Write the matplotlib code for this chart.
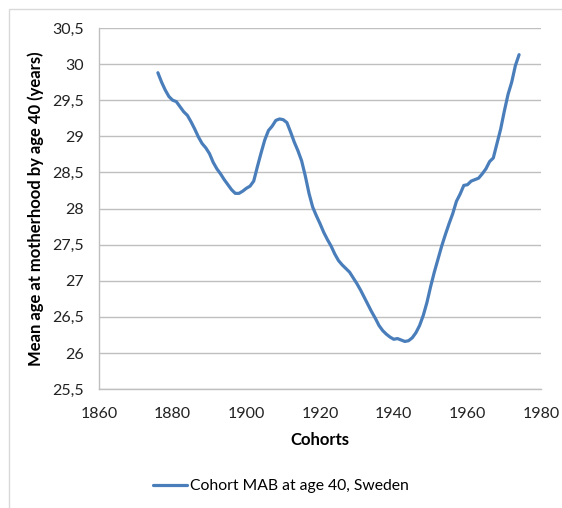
import numpy as np
import matplotlib.pyplot as plt
from matplotlib.ticker import FuncFormatter, MultipleLocator
from matplotlib.patches import Rectangle

# Cohort mean age at motherhood by age 40, Sweden
years = np.arange(1876, 1975)
mab = [29.88, 29.75, 29.64, 29.55, 29.50, 29.48, 29.41, 29.34, 29.29, 29.20,
       29.10, 28.99, 28.90, 28.84, 28.76, 28.64, 28.55, 28.48, 28.40, 28.33,
       28.26, 28.21, 28.21, 28.24, 28.28, 28.31, 28.38, 28.58, 28.77, 28.95,
       29.08, 29.14, 29.22, 29.24, 29.23, 29.19, 29.06, 28.92, 28.80, 28.66,
       28.45, 28.21, 28.02, 27.90, 27.79, 27.67, 27.57, 27.48, 27.37, 27.28,
       27.22, 27.17, 27.12, 27.04, 26.96, 26.87, 26.77, 26.67, 26.57, 26.48,
       26.38, 26.31, 26.26, 26.22, 26.19, 26.20, 26.18, 26.16, 26.17, 26.21,
       26.28, 26.38, 26.52, 26.70, 26.92, 27.12, 27.30, 27.48, 27.64, 27.79,
       27.93, 28.10, 28.20, 28.32, 28.33, 28.38, 28.40, 28.42, 28.48, 28.55,
       28.65, 28.70, 28.90, 29.10, 29.35, 29.58, 29.75, 29.98, 30.13]

series_label = "Cohort MAB at age 40, Sweden"
x_label = "Cohorts"
y_label = "Mean age at motherhood by age 40 (years)"

plt.rcParams['font.family'] = ['Lato', 'DejaVu Sans']

fig = plt.figure(figsize=(5.62, 5.08), dpi=100)
ax = fig.add_axes([0.176, 0.234, 0.787, 0.711])

# chart area border
fig.patches.append(Rectangle((9 / 562, -0.01), 1.0, 1 - 9 / 508 + 0.01,
                             transform=fig.transFigure, fill=False,
                             edgecolor='#d9d9d9', linewidth=1.0))

line, = ax.plot(years, mab, color='#4a7ebb', linewidth=2.3,
                solid_capstyle='round', label=series_label)

ax.set_xlim(1860, 1980)
ax.set_ylim(25.5, 30.5)
ax.xaxis.set_major_locator(MultipleLocator(20))
ax.yaxis.set_major_locator(MultipleLocator(0.5))
ax.yaxis.set_major_formatter(FuncFormatter(lambda v, p: f"{v:g}".replace('.', ',')))

ax.grid(axis='y', color='#bfbfbf', linewidth=1.0)
ax.set_axisbelow(True)
for s in ['top', 'right']:
    ax.spines[s].set_visible(False)
for s in ['left', 'bottom']:
    ax.spines[s].set_color('#bfbfbf')
    ax.spines[s].set_linewidth(1.0)
ax.tick_params(length=0, labelsize=11.5, colors='#222222', pad=13)
ax.tick_params(axis='y', pad=11)

ax.set_xlabel(x_label, fontsize=12, fontweight='bold', labelpad=8)
ax.set_ylabel(y_label, fontsize=12, fontweight='bold', labelpad=6)

fig.legend(handles=[line], loc='center', bbox_to_anchor=(0.5, 1 - 486 / 508),
           frameon=False, fontsize=11.3, handlelength=2.2, handletextpad=0.2)

fig.savefig("out.png", dpi=100)
